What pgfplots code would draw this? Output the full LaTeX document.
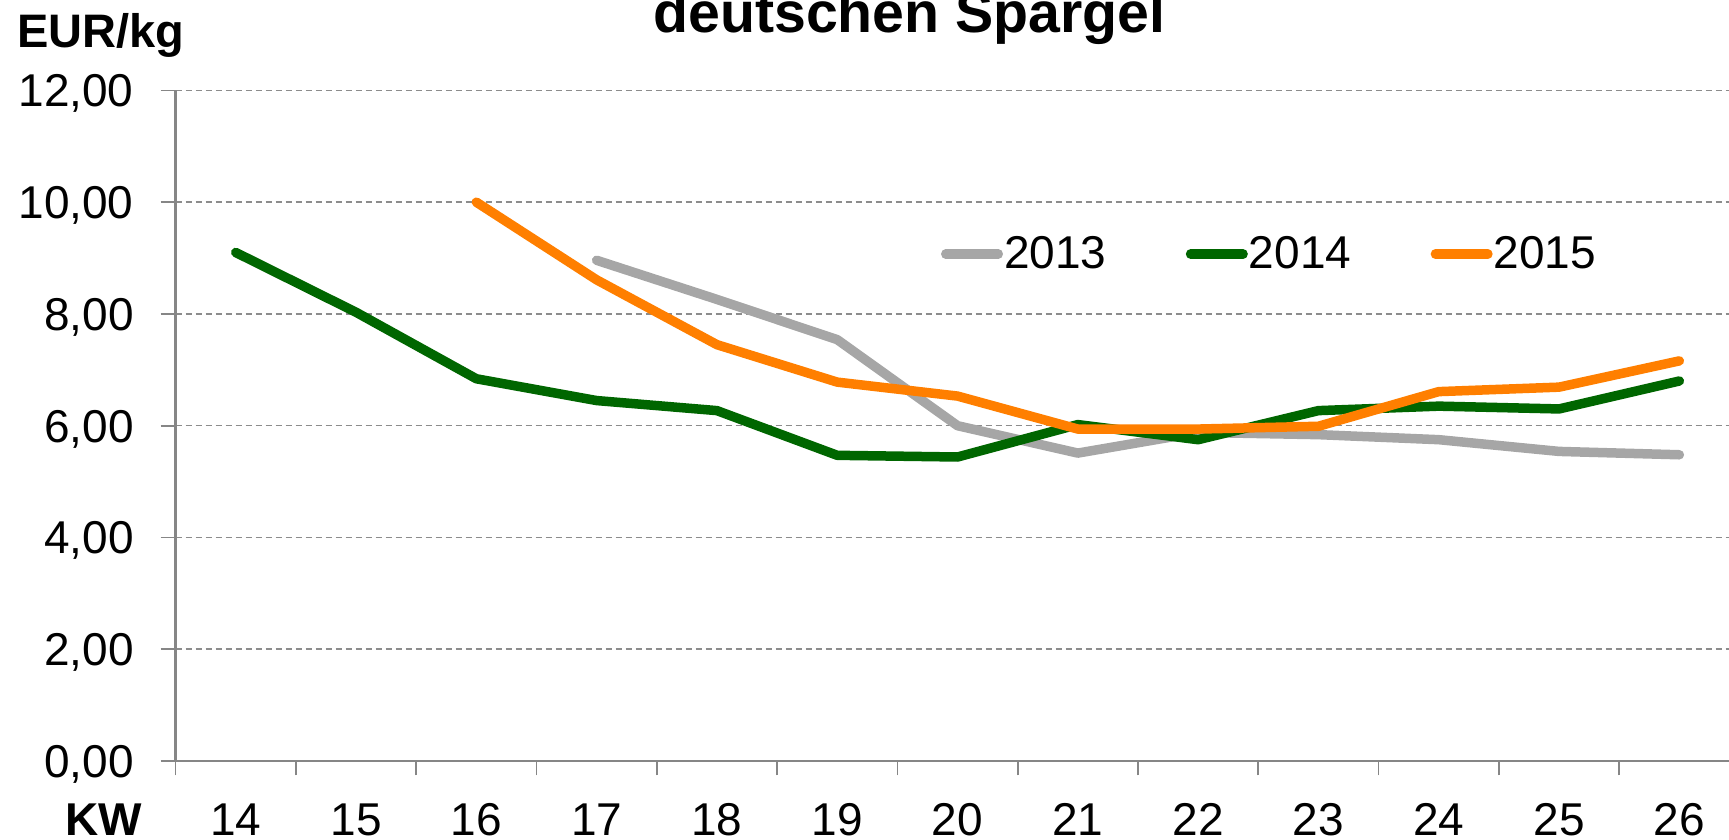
\documentclass[border=0pt]{standalone}
\usepackage{fontspec}
\setmainfont{Liberation Sans}
\usepackage{pgfplots}
\pgfplotsset{compat=1.18}
\definecolor{c13}{HTML}{A6A6A6}
\definecolor{c14}{HTML}{006600}
\definecolor{c15}{HTML}{FF7F00}
\definecolor{axgray}{HTML}{868686}
\definecolor{gridgray}{HTML}{8C8C8C}
\newcommand\fs{\fontsize{18.4pt}{22pt}\selectfont}
\begin{document}
\begin{tikzpicture}[x=1pt,y=1pt]
\useasboundingbox (0,0) rectangle (691.6,335.6);
\begin{axis}[
  at={(70.24pt,31.2pt)}, anchor=south west,
  scale only axis, width=625.56pt, height=268.24pt,
  xmin=13.5, xmax=26.5, ymin=0, ymax=12,
  axis lines*=left,
  axis line style={axgray, line width=1.1pt},
  xtick={14,15,16,17,18,19,20,21,22,23,24,25,26},
  xticklabels={14,15,16,17,18,19,20,21,22,23,24,25,26},
  minor xtick={13.5,14.5,...,26.5},
  ytick={0,2,4,6,8,10,12},
  ymajorgrids,
  major grid style={gridgray, dash pattern=on 2.4pt off 1.6pt, line width=0.6pt},
  tick align=outside,
  major tick length=6pt, minor tick length=5.7pt,
  major x tick style={draw=none},
  minor x tick style={axgray, line width=0.7pt},
  ytick style={axgray, line width=0.7pt},
  tick label style={font=\fs},
  xticklabel style={anchor=base, inner sep=0pt, yshift=-23.6pt},
  yticklabel style={anchor=base east, inner sep=0pt, xshift=-10.6pt, yshift=-6.6pt,
     /pgf/number format/.cd, fixed, fixed zerofill, precision=2, use comma, 1000 sep={}},
  /pgf/number format/assume math mode=true,
  legend columns=3,
  legend style={draw=none, fill=none, at={(0.4891,0.756)}, anchor=west, inner sep=0pt,
     font=\fs, nodes={inner sep=0.4pt},
     /tikz/every even column/.append style={column sep=31.4pt}},
  legend image code/.code={\draw[#1] (0pt,0pt) -- (21pt,0pt);},
  every axis plot/.append style={line width=3.8pt, line cap=round, line join=round},
]
\addplot[c13] coordinates {(17,8.96)(18,8.26)(19,7.54)(20,6.00)(21,5.51)(22,5.88)(23,5.84)(24,5.75)(25,5.54)(26,5.48)};
\addlegendentry{2013}
\addplot[c14] coordinates {(14,9.10)(15,8.03)(16,6.84)(17,6.45)(18,6.27)(19,5.47)(20,5.44)(21,6.02)(22,5.75)(23,6.27)(24,6.35)(25,6.30)(26,6.80)};
\addlegendentry{2014}
\addplot[c15] coordinates {(16,10.00)(17,8.61)(18,7.45)(19,6.78)(20,6.53)(21,5.94)(22,5.94)(23,5.99)(24,6.61)(25,6.69)(26,7.16)};
\addlegendentry{2015}
\end{axis}
\node[anchor=base, font=\bfseries\fontsize{22.9pt}{26pt}\selectfont, inner sep=0pt] at (363.8,322.4) {deutschen Spargel};
\node[anchor=base west, font=\bfseries\fontsize{18.8pt}{22pt}\selectfont, inner sep=0pt] at (6.8,316.4) {EUR/kg};
\node[anchor=base, font=\bfseries\fs, inner sep=0pt] at (41.4,1.6) {KW};
\end{tikzpicture}
\end{document}
